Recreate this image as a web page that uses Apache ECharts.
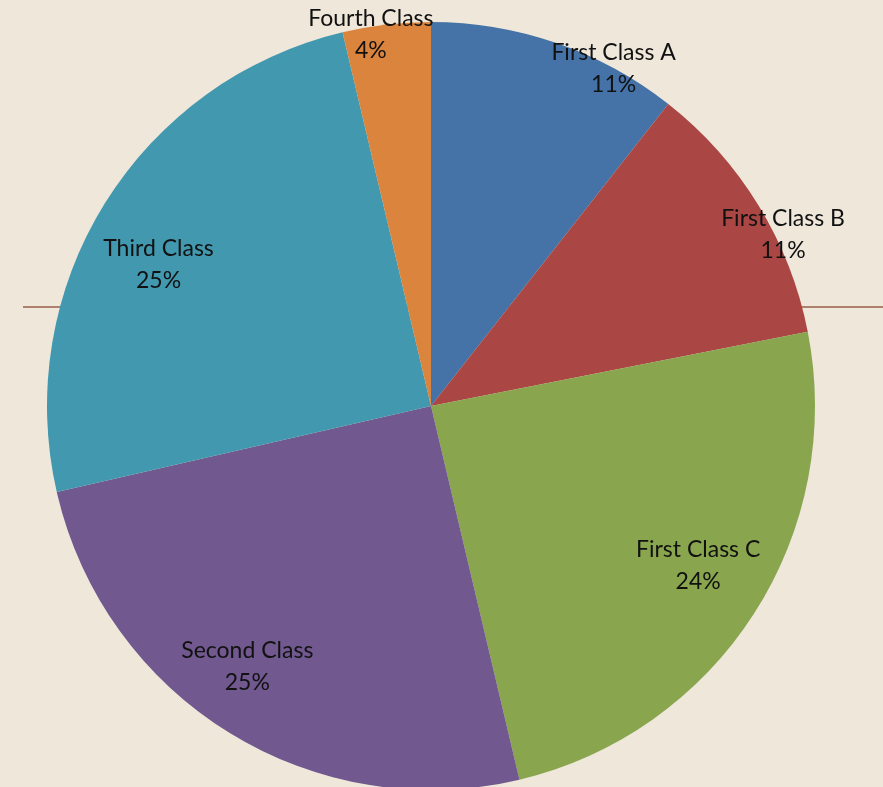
<!DOCTYPE html>
<html>
<head>
<meta charset="utf-8">
<script src="https://cdn.jsdelivr.net/npm/echarts@6/dist/echarts.min.js"></script>
<style>
  html, body { margin: 0; padding: 0; background: #efe7da; }
  #chart { width: 883px; height: 787px; }
</style>
</head>
<body>
<div id="chart"></div>
<script>
'use strict';

// share of passengers per class
const categories = ['First Class A', 'First Class B', 'First Class C', 'Second Class', 'Third Class', 'Fourth Class'];
const shares = [10.6, 11.3, 24.4, 25.1, 24.9, 3.7];
const colors = ['#4572a7', '#aa4643', '#89a54e', '#71588f', '#4198af', '#db843d'];

// where Excel's "best fit" put each label: [degrees clockwise from top, fraction of radius]
const labelSpots = [[28.4, 1.0], [64.0, 1.02], [120.8, 0.81], [215.2, 0.83], [297.5, 0.80], [350.8, 0.98]];

const cx = 431, cy = 406, radius = 384;

const chart = echarts.init(document.getElementById('chart'));

chart.setOption({
  backgroundColor: '#efe7da',
  animation: false,
  graphic: [{
    type: 'line',
    z: 0,
    shape: {x1: 23, y1: 307, x2: 883, y2: 307},
    style: {stroke: '#b0806e', lineWidth: 2}
  }],
  series: [{
    type: 'pie',
    z: 5,
    center: [cx, cy],
    radius: radius,
    startAngle: 90,
    clockwise: true,
    percentPrecision: 0,
    avoidLabelOverlap: false,
    itemStyle: {borderWidth: 0},
    label: {
      show: true,
      position: 'inside',
      formatter: '{b}\n{d}%',
      fontFamily: 'Lato',
      fontSize: 23,
      lineHeight: 32,
      color: '#111',
      align: 'center'
    },
    labelLine: {show: false},
    labelLayout: (params) => {
      const [deg, frac] = labelSpots[params.dataIndex];
      const a = deg * Math.PI / 180;
      return {
        x: cx + Math.sin(a) * radius * frac,
        y: cy - Math.cos(a) * radius * frac,
        align: 'center',
        verticalAlign: 'middle'
      };
    },
    data: categories.map((name, i) => ({
      name,
      value: shares[i],
      itemStyle: {color: colors[i]}
    }))
  }]
});
</script>
</body>
</html>
